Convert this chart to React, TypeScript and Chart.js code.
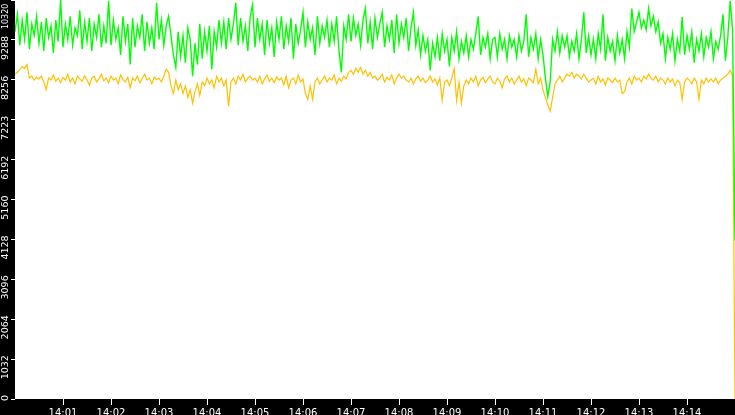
import React, { useEffect, useRef } from 'react';
import { Chart, registerables } from 'chart.js';

Chart.register(...registerables);

// one sample every 3 seconds, starting 14:00:00
const sampleSeconds = 3;

const greenValues = [
  9500, 9950, 9150, 9800, 9300, 10000, 9050, 9700, 9400, 9900,
  9200, 9750, 9000, 9850, 9350, 9650, 8950, 9800, 9250, 10320,
  9100, 9700, 9300, 9900, 9150, 9600, 9400, 10050, 9050, 9750,
  9250, 9850, 9000, 9700, 9350, 9950, 9100, 9650, 9200, 10300,
  9150, 9800, 9300, 9600, 8900, 9900, 9250, 9700, 8650, 9850,
  9100, 9650, 9350, 9950, 9000, 9750, 9200, 9600, 9050, 10250,
  9300, 9800, 9150, 9650, 9900, 9400, 8900, 8580, 9500, 8850,
  9400, 8700, 9600, 9300, 8350, 9200, 8650, 9700, 8800, 9500,
  9000, 9650, 8530, 9500, 9100, 9800, 9200, 9750, 9050, 9850,
  9300, 9700, 10250, 9150, 9850, 9250, 9650, 9000, 9900, 10200,
  9100, 9850, 9300, 9700, 8900, 9800, 9200, 9600, 8850, 9750,
  9300, 9900, 9050, 9650, 9250, 9850, 8800, 9700, 9200, 9550,
  10000, 9100, 9750, 9300, 9600, 8900, 9900, 9200, 9650, 9350,
  9800, 9100, 9700, 9250, 9900, 9000, 8450, 9650, 9300, 9950,
  9250, 9850, 9400, 9700, 9150, 9800, 10100, 9200, 9750, 9050,
  9850, 9350, 9700, 10000, 9100, 9650, 9300, 9800, 8950, 9950,
  9200, 9700, 9350, 9850, 9000, 9600, 10000, 9150, 9550, 8900,
  9400, 9000, 9300, 8500, 9200, 8850, 9350, 8750, 9450, 9000,
  9300, 8600, 9350, 9000, 9500, 8800, 9250, 8950, 9400, 8850,
  9300, 9050, 9450, 9900, 8900, 9350, 9100, 9450, 8800, 9300,
  9350, 8850, 9450, 9050, 9300, 8800, 9400, 9100, 9300, 8850,
  9400, 9000, 9250, 9950, 8850, 9350, 9050, 9450, 8800, 9300,
  8900, 8300, 7830, 8200, 9300, 9000, 9500, 8950, 9400, 9100,
  9400, 8850, 9250, 9000, 9450, 8800, 9300, 10000, 8950, 9400,
  8900, 9300, 8800, 9450, 9050, 9950, 8750, 9350, 9000, 9250,
  8750, 9400, 8950, 9300, 8800, 9500, 9100, 10100, 9500, 9750,
  10000, 9600, 9800, 9550, 10100, 9650, 9900, 9500, 9750, 9200,
  9450, 8800, 9350, 9050, 9450, 8750, 9300, 9000, 9880, 8900,
  9400, 9050, 9500, 8700, 9300, 9000, 9450, 8850, 9350, 9100,
  9500, 8800, 9250, 9050, 9400, 9950, 8750, 9350, 10300, 9550,
  4100,
];

const yellowValues = [
  8400, 8450, 8520, 8600, 8550, 8650, 8300, 8350, 8250, 8320,
  8280, 8350, 8200, 8000, 8300, 8250, 8380, 8220, 8300, 8180,
  8320, 8250, 8400, 8200, 8300, 8150, 8350, 8280, 8220, 8360,
  8250, 8120, 8300, 8350, 8200, 8280, 8400, 8230, 8300, 8180,
  8350, 8250, 8300, 8150, 8380, 8260, 8200, 8320, 8050, 8300,
  8230, 8350, 8180, 8290, 8400, 8250, 8300, 8150, 8330, 8260,
  8300, 8200, 8350, 8530, 8450, 8100, 7900, 8250, 8000, 8150,
  7900, 8100, 7800, 8000, 7650, 7950, 8150, 7850, 8200, 8100,
  8300, 8150, 8250, 8050, 8350, 8200, 8300, 8100, 8250, 7570,
  8200, 8300, 8150, 8350, 8250, 8400, 8200, 8300, 8350, 8250,
  8300, 8200, 8350, 8150, 8280, 8380, 8220, 8300, 8180, 8330,
  8250, 8300, 8120, 8350, 8050, 8250, 8300, 8150, 8380, 8200,
  8280, 7900, 7750, 8100, 7750, 8200, 8300, 8150, 8250, 8350,
  8200, 8300, 8250, 8380, 8150, 8300, 8220, 8350, 8280, 8450,
  8500, 8400, 8550, 8450, 8580, 8400, 8500, 8350, 8450, 8300,
  8350, 8250, 8300, 8400, 8200, 8320, 8250, 8380, 8150, 8300,
  8400, 8300, 8350, 8250, 8200, 8300, 8150, 8280, 8350, 8220,
  8300, 8180, 8250, 8350, 8200, 8280, 8120, 8300, 7720, 8200,
  8250, 8100, 8300, 8550, 7720, 8200, 7650, 8100, 8250, 8150,
  8300, 8200, 8350, 8100, 8250, 8320, 8180, 8280, 8350, 8200,
  8150, 8300, 8220, 8050, 8280, 8350, 8200, 8300, 8150, 8250,
  8350, 8200, 8280, 8100, 8300, 8250, 8180, 8530, 8150, 8300,
  8000, 7800, 7600, 7440, 7800, 8150, 8250, 8350, 8200, 8300,
  8400, 8350, 8450, 8300, 8400, 8350, 8280, 8400, 8300, 8200,
  8250, 8300, 8150, 8350, 8200, 8280, 8120, 8300, 8250, 8180,
  8300, 8200, 8250, 7900, 7950, 8200, 8300, 8150, 8350, 8250,
  8300, 8200, 8350, 8280, 8400, 8300, 8250, 8350, 8200, 8300,
  8250, 8150, 8300, 8200, 8280, 8100, 8250, 8180, 7750, 8200,
  8300, 8250, 8150, 8300, 8200, 7750, 8250, 8150, 8300, 8200,
  8280, 8200, 8300, 8150, 8250, 8300, 8350, 8400, 8500, 8350,
  0,
];

const yTickValues = [0, 1032, 2064, 3096, 4128, 5160, 6192, 7224, 8256, 9288, 10320];
const yTickLabels = ['0', '1032', '2064', '3096', '4128', '5160', '6192', '7223', '8256', '9288', '10320'];

const xTickSeconds = [60, 120, 180, 240, 300, 360, 420, 480, 540, 600, 660, 720, 780, 840];
const xTickLabels = ['14:01', '14:02', '14:03', '14:04', '14:05', '14:06', '14:07', '14:08', '14:09', '14:10', '14:11', '14:12', '14:13', '14:14'];

const yMax = 10320;

// black frame around a white plot area
const backdrop = {
  id: 'backdrop',
  beforeDraw(chart: any) {
    const { ctx, chartArea } = chart;
    ctx.save();
    ctx.fillStyle = '#000';
    ctx.fillRect(0, 0, chart.width, chart.height);
    ctx.fillStyle = '#fff';
    ctx.fillRect(chartArea.left, chartArea.top, chartArea.right - chartArea.left, chartArea.bottom - chartArea.top);
    ctx.restore();
  }
};

const App: React.FC = () => {
  const chartRef = useRef<HTMLCanvasElement>(null);
  const chartInstance = useRef<Chart | null>(null);

  useEffect(() => {
    document.body.style.margin = '0';
    if (!chartRef.current) return;
    const ctx = chartRef.current.getContext('2d');
    if (!ctx) return;

    const config: any = {
      type: 'line',
      data: {
        datasets: [
          {
            label: 'green',
            data: greenValues.map((v, i) => ({ x: i * sampleSeconds, y: v })),
            borderColor: '#00ff00',
            borderWidth: 1.4,
            pointRadius: 0,
            tension: 0
          },
          {
            label: 'yellow',
            data: yellowValues.map((v, i) => ({ x: i * sampleSeconds, y: v })),
            borderColor: '#ffc000',
            borderWidth: 1.2,
            pointRadius: 0,
            tension: 0
          }
        ]
      },
      options: {
        animation: false,
        responsive: true,
        maintainAspectRatio: false,
        layout: { padding: 0 },
        plugins: {
          legend: { display: false },
          tooltip: { enabled: false }
        },
        scales: {
          x: {
            type: 'linear',
            min: 0,
            max: 900,
            afterBuildTicks: (s: any) => {
              s.ticks = xTickSeconds.map(v => ({ value: v }));
            },
            afterFit: (s: any) => {
              s.height = 16;
              s.paddingLeft = 0;
              s.paddingRight = 0;
            },
            grid: { drawOnChartArea: false, drawTicks: true, tickLength: 6, color: '#fff' },
            border: { display: false },
            ticks: {
              color: '#fff',
              font: { family: 'DejaVu Sans', size: 10 },
              padding: 2,
              maxRotation: 0,
              autoSkip: false,
              callback: (v: number) => xTickLabels[xTickSeconds.indexOf(v)] ?? ''
            }
          },
          y: {
            min: 0,
            max: yMax,
            afterBuildTicks: (s: any) => {
              s.ticks = yTickValues.map(v => ({ value: v }));
            },
            afterFit: (s: any) => {
              s.width = 15;
              s.paddingTop = 0;
              s.paddingBottom = 0;
            },
            grid: { drawOnChartArea: false, drawTicks: true, tickLength: 4, color: '#fff' },
            border: { display: false },
            ticks: {
              color: '#fff',
              font: (c: any) => ({ family: 'DejaVu Sans', size: c.tick && c.tick.value === yMax ? 8 : 9.5 }),
              padding: 5,
              minRotation: 90,
              maxRotation: 90,
              labelOffset: -4,
              crossAlign: 'near',
              autoSkip: false,
              // the top label is pushed down so it stays inside the canvas
              callback: (v: number) => {
                const label = yTickLabels[yTickValues.indexOf(v)] ?? '';
                return v === yMax ? label + '   ' : label;
              }
            }
          }
        }
      },
      plugins: [backdrop]
    };

    if (chartInstance.current) {
      chartInstance.current.destroy();
    }
    chartInstance.current = new Chart(ctx, config);

    return () => {
      if (chartInstance.current) {
        chartInstance.current.destroy();
        chartInstance.current = null;
      }
    };
  }, []);

  return (
    <div style={{ position: 'relative', width: 735, height: 415 }}>
      <canvas ref={chartRef} />
    </div>
  );
};

export default App;
